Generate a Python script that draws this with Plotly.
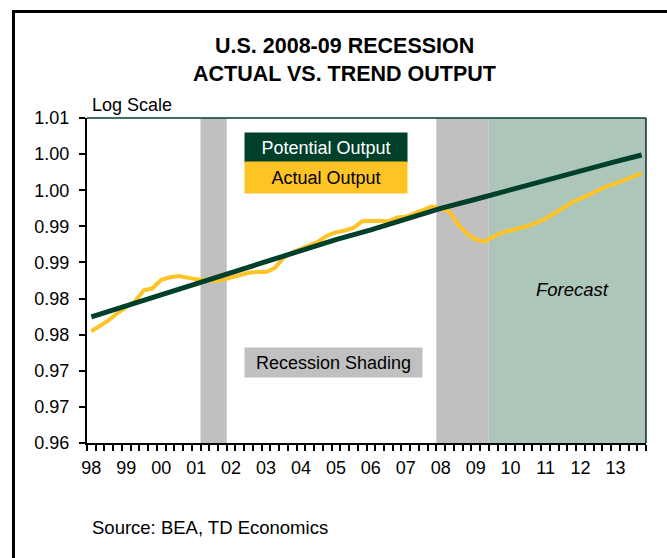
import plotly.graph_objects as go

# quarters 1998Q1 .. 2013Q4 -> index 0..63
year_labels = ["98", "99", "00", "01", "02", "03", "04", "05",
               "06", "07", "08", "09", "10", "11", "12", "13"]
y_labels = ["0.96", "0.97", "0.97", "0.98", "0.98", "0.99", "0.99", "1.00", "1.00", "1.01"]

# actual output, quarterly
actual = [0.9772, 0.9780, 0.9789, 0.9800, 0.9809, 0.9818, 0.9835, 0.9838,
          0.9851, 0.9855, 0.9857, 0.9854, 0.9852, 0.9851, 0.9849, 0.9851,
          0.9855, 0.9858, 0.9862, 0.9863, 0.9863, 0.9869, 0.9885, 0.9893,
          0.9899, 0.9905, 0.9910, 0.9919, 0.9924, 0.9927, 0.9931, 0.9941,
          0.9942, 0.9942, 0.9941, 0.9947, 0.9948, 0.9953, 0.9959, 0.9964,
          0.9961, 0.9956, 0.9936, 0.9922, 0.9913, 0.9910, 0.9917, 0.9924,
          0.9927, 0.9930, 0.9934, 0.9939, 0.9945, 0.9953, 0.9962, 0.9970,
          0.9976, 0.9982, 0.9989, 0.9995, 0.9999, 1.0004, 1.0010, 1.0015]

# potential output, read at Q1 of each year plus the last quarter
potential_q = [0, 4, 8, 12, 16, 20, 24, 28, 32, 36, 40, 44, 48, 52, 56, 60, 63]
potential = [0.9794, 0.9811, 0.9829, 0.9846, 0.9863, 0.9880, 0.9896, 0.9913,
             0.9928, 0.9945, 0.9961, 0.9975, 0.9990, 1.0004, 1.0018, 1.0033, 1.0043]

recessions = [(12.5, 15.5), (39.5, 45.5)]
forecast_start = 45.5

FONT = "Liberation Sans, Arial, sans-serif"
DARK_GREEN = "#00402b"
GOLD = "#fec325"

fig = go.Figure()
fig.add_trace(go.Scatter(x=list(range(len(actual))), y=actual, mode="lines",
                         line=dict(color=GOLD, width=4), name="Actual Output"))
fig.add_trace(go.Scatter(x=potential_q, y=potential, mode="lines",
                         line=dict(color=DARK_GREEN, width=5), name="Potential Output"))

for x0, x1 in recessions:
    fig.add_shape(type="rect", xref="x", yref="paper", x0=x0, x1=x1, y0=0, y1=1,
                  fillcolor="#c0c0c0", line_width=0, layer="below")
fig.add_shape(type="rect", xref="x", yref="paper", x0=forecast_start, x1=63.5, y0=0, y1=1,
              fillcolor="#adc6ba", line_width=0, layer="below")

# plot frame top/right
fig.add_shape(type="line", xref="paper", yref="paper", x0=0, x1=1, y0=1, y1=1,
              line=dict(color=DARK_GREEN, width=1.5))
fig.add_shape(type="line", xref="paper", yref="paper", x0=1, x1=1, y0=0, y1=1,
              line=dict(color="#0b2e22", width=1.5))
# outer chart border (left and top)
fig.add_shape(type="line", xref="paper", yref="paper", x0=-0.1315, x1=-0.1315, y0=-0.40, y1=1.3277,
              line=dict(color="black", width=3))
fig.add_shape(type="line", xref="paper", yref="paper", x0=-0.1342, x1=1.07, y0=1.3277, y1=1.3277,
              line=dict(color="black", width=3))

ann = [
    dict(text="<b>U.S. 2008-09 RECESSION</b>", x=0.4615, y=1.2215, font=dict(size=21.5)),
    dict(text="<b>ACTUAL VS. TREND OUTPUT</b>", x=0.4615, y=1.1354, font=dict(size=21.5)),
    dict(text="Log Scale", x=0.005, y=1.04, xanchor="left", font=dict(size=18)),
    dict(text="Potential Output", x=0.4275, y=0.9092, width=162, height=29, borderpad=0,
         bgcolor=DARK_GREEN, font=dict(size=18, color="white")),
    dict(text="Actual Output", x=0.4275, y=0.8169, width=162, height=31, borderpad=0,
         bgcolor=GOLD, font=dict(size=18, color="black")),
    dict(text="Recession Shading", x=0.441, y=0.2477, width=177, height=29, borderpad=0,
         bgcolor="#c0c0c0", font=dict(size=18, color="black")),
    dict(text="<i>Forecast</i>", x=0.8694, y=0.4738, font=dict(size=18.5)),
    dict(text="Source: BEA, TD Economics", x=0.005, y=-0.2585, xanchor="left", font=dict(size=18.5)),
]
for a in ann:
    a.setdefault("xanchor", "center")
    a.update(xref="paper", yref="paper", yanchor="middle", showarrow=False)
    a["font"].setdefault("color", "black")
    a["font"]["family"] = FONT
    fig.add_annotation(**a)

fig.update_xaxes(range=[-0.5, 63.5], tickmode="array",
                 tickvals=[4 * i for i in range(len(year_labels))], ticktext=year_labels,
                 ticks="", ticklabelstandoff=7, showgrid=False, zeroline=False,
                 showline=True, linecolor="black", linewidth=2,
                 tickfont=dict(family=FONT, size=18, color="black"),
                 minor=dict(tickmode="array", tickvals=[k - 0.5 for k in range(65)],
                            ticks="outside", ticklen=6, tickwidth=2, tickcolor="black",
                            showgrid=False))
fig.update_yaxes(range=[0.96, 1.01], tickmode="array",
                 tickvals=[0.96 + k * 0.05 / 9 for k in range(10)], ticktext=y_labels,
                 ticks="outside", ticklen=6, tickwidth=2, tickcolor="black",
                 ticklabelstandoff=6, showgrid=False, zeroline=False,
                 showline=True, linecolor="black", linewidth=2,
                 tickfont=dict(family=FONT, size=18, color="black"))

fig.update_layout(width=667, height=558, margin=dict(l=87, r=21, t=118, b=115),
                  plot_bgcolor="white", paper_bgcolor="white", showlegend=False,
                  font=dict(family=FONT))

# drop the page's default body margin so the figure sits at the window's corner
fig.write_html("out.html", config={"displayModeBar": False},
               post_script="document.body.style.margin='0px';")
